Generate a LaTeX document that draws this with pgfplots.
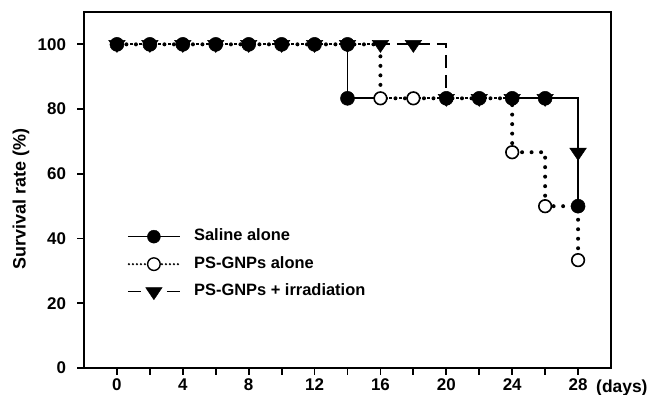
\documentclass[border=0pt]{standalone}
\usepackage{fontspec}
\setmainfont{Liberation Sans}
\usepackage{pgfplots}
\pgfplotsset{compat=1.18}
\begin{document}
\begin{tikzpicture}
\begin{axis}[
  at={(84bp,27bp)}, anchor=south west,
  scale only axis, width=527bp, height=356bp,
  xmin=-2, xmax=30, ymin=0, ymax=110,
  clip=false,
  axis line style={line width=2.2bp},
  xtick={0,4,...,28}, minor xtick={2,6,...,26},
  ytick={0,20,...,100},
  tick align=outside, tick pos=left,
  major tick length=6.5bp, minor tick length=6.5bp,
  every tick/.append style={line width=1.8bp, black},
  /pgf/number format/assume math mode=true,
  tick label style={font=\fontsize{17}{20}\selectfont\bfseries},
  yticklabel style={xshift=-8bp},
  xticklabel style={yshift=-1bp},
  every axis y label/.style={at={(rel axis cs:-0.1195,0.475)}, rotate=90, anchor=center},
  ylabel={Survival rate (\%)},
  ylabel style={font=\fontsize{18}{21}\selectfont\bfseries},
  legend style={draw=none, fill=none, at={(rel axis cs:0.0816,0.392)}, anchor=north west,
    inner sep=0pt, row sep=11.5bp, column sep=13bp,
    nodes={inner sep=0pt, text height=12bp, text depth=4bp, font=\fontsize{16.5}{19}\selectfont\bfseries}},
  legend cell align=left,
]
% lines
\addplot[const plot, line width=1.8bp, forget plot] coordinates {(0,100)(14,83.33)(28,50)};
\addplot[const plot, line width=1.8bp, dash pattern=on 13bp off 7bp, forget plot] coordinates {(0,100)(20,83.33)(28,66.67)};
\addplot[const plot, white, line width=2.6bp, dash pattern=on 6.5bp off 3bp, dash phase=3.25bp, forget plot] coordinates {(0,100)(16,83.33)(24,66.67)(26,50)(28,33.33)};
\addplot[const plot, line width=4bp, line cap=round, dash pattern=on 0bp off 9.5bp, forget plot] coordinates {(0,100)(16,83.33)(24,66.67)(26,50)(28,33.33)};
% markers: irradiation
\addplot[only marks, mark=triangle*, mark size=9.5bp, mark options={rotate=180, yscale=0.85, fill=black, draw=black, line width=0.5bp}, forget plot] coordinates {
(0,100)(2,100)(4,100)(6,100)(8,100)(10,100)(12,100)(14,100)(16,100)(18,100)
(20,83.33)(22,83.33)(24,83.33)(26,83.33)(28,66.67)};
% markers: saline
\addplot[only marks, mark=*, mark size=7bp, mark options={fill=black, draw=black, line width=0.5bp}, forget plot] coordinates {
(0,100)(2,100)(4,100)(6,100)(8,100)(10,100)(12,100)(14,100)
(14,83.33)(20,83.33)(22,83.33)(24,83.33)(26,83.33)(28,50)};
% markers: PS-GNPs alone
\addplot[only marks, mark=*, mark size=6.3bp, mark options={fill=white, draw=black, line width=1.6bp}, forget plot] coordinates {
(16,83.33)(18,83.33)(24,66.67)(26,50)(28,33.33)};
% legend
\addlegendimage{legend image code/.code={
  \draw[line width=1.2bp] (0bp,0bp)--(52bp,0bp);
  \draw[mark=*, mark size=6.5bp, mark options={fill=black, draw=black}] plot coordinates {(26bp,0bp)};}}
\addlegendentry{Saline alone}
\addlegendimage{legend image code/.code={
  \draw[line width=2.4bp, line cap=round, dash pattern=on 0bp off 4bp] (1bp,0bp)--(18bp,0bp) (34bp,0bp)--(52bp,0bp);
  \draw[mark=*, mark size=6.3bp, mark options={fill=white, draw=black, line width=1.4bp}] plot coordinates {(26bp,0bp)};}}
\addlegendentry{PS-GNPs alone}
\addlegendimage{legend image code/.code={
  \draw[line width=1.4bp] (0bp,0bp)--(13bp,0bp) (39bp,0bp)--(52bp,0bp);
  \draw[mark=triangle*, mark size=9.5bp, mark options={rotate=180, yscale=0.85, fill=black, draw=black}] plot coordinates {(26bp,0bp)};}}
\addlegendentry{PS-GNPs + irradiation}
\end{axis}
\node[anchor=base west, inner sep=0pt, font=\fontsize{17.5}{20}\selectfont\bfseries] at (596bp,3bp) {(days)};
\pgfresetboundingbox
\path[use as bounding box] (0,0) rectangle (648bp,395bp);
\end{tikzpicture}
\end{document}
